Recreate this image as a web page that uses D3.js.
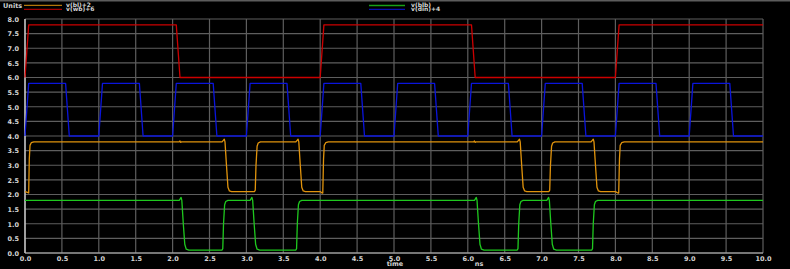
<!DOCTYPE html>
<html>
<head>
<meta charset="utf-8">
<script src="https://cdn.jsdelivr.net/npm/d3@7"></script>
<style>
  html, body { margin: 0; padding: 0; background: #000; }
  svg { display: block; }
  text { font-family: "DejaVu Sans", sans-serif; }
</style>
</head>
<body>
<svg id="chart" width="790" height="269"></svg>
<script>
// tick labels
const xTicks = [0, 0.5, 1, 1.5, 2, 2.5, 3, 3.5, 4, 4.5, 5, 5.5, 6, 6.5, 7, 7.5, 8, 8.5, 9, 9.5, 10];
const yTicks = [0, 0.5, 1, 1.5, 2, 2.5, 3, 3.5, 4, 4.5, 5, 5.5, 6, 6.5, 7, 7.5, 8];

// waveforms, [time ns, volts] (raw, offset added when drawing)
const wb = [[0,0],[0.05,1.8],[2.05,1.8],[2.1,0],[4.0,0],[4.05,1.8],[6.05,1.8],[6.1,0],[8.0,0],[8.05,1.8],[10,1.8]];

const din = [
  [0,0],[0.05,1.8],[0.55,1.8],[0.6,0],
  [1,0],[1.05,1.8],[1.55,1.8],[1.6,0],
  [2,0],[2.05,1.8],[2.55,1.8],[2.6,0],
  [3,0],[3.05,1.8],[3.55,1.8],[3.6,0],
  [4,0],[4.05,1.8],[4.55,1.8],[4.6,0],
  [5,0],[5.05,1.8],[5.55,1.8],[5.6,0],
  [6,0],[6.05,1.8],[6.55,1.8],[6.6,0],
  [7,0],[7.05,1.8],[7.55,1.8],[7.6,0],
  [8,0],[8.05,1.8],[8.55,1.8],[8.6,0],
  [9,0],[9.05,1.8],[9.55,1.8],[9.6,0],
  [10,0]
];

const bl = [
  [0,0.10],[0.035,0.07],[0.05,0.05],[0.058,1.2],[0.068,1.68],[0.085,1.77],[0.12,1.80],
  [2.09,1.80],[2.1,1.83],[2.11,1.78],[2.12,1.80],
  [2.67,1.80],[2.69,1.86],[2.70,1.89],[2.71,1.80],[2.73,1.0],[2.75,0.25],[2.77,0.12],[2.80,0.10],
  [3.11,0.10],[3.12,0.15],[3.13,1.0],[3.145,1.65],[3.16,1.76],[3.19,1.80],
  [3.67,1.80],[3.69,1.86],[3.70,1.89],[3.71,1.80],[3.73,1.0],[3.75,0.25],[3.77,0.12],[3.80,0.10],
  [4.00,0.10],[4.025,0.05],[4.035,0.05],[4.045,1.2],[4.055,1.68],[4.075,1.77],[4.11,1.80],
  [6.08,1.80],[6.09,1.83],[6.10,1.78],[6.11,1.80],
  [6.67,1.80],[6.69,1.86],[6.70,1.89],[6.71,1.80],[6.73,1.0],[6.75,0.25],[6.77,0.12],[6.80,0.10],
  [7.10,0.10],[7.11,0.15],[7.12,1.0],[7.135,1.65],[7.15,1.76],[7.18,1.80],
  [7.67,1.80],[7.69,1.86],[7.70,1.89],[7.71,1.80],[7.73,1.0],[7.75,0.25],[7.77,0.12],[7.80,0.10],
  [8.00,0.10],[8.035,0.05],[8.045,0.05],[8.055,1.2],[8.065,1.68],[8.085,1.77],[8.12,1.80],
  [10,1.80]
];

const blb = [
  [0,1.80],
  [2.09,1.80],[2.105,1.86],[2.115,1.90],[2.125,1.80],[2.145,1.0],[2.165,0.3],[2.185,0.13],[2.22,0.10],
  [2.67,0.10],[2.68,0.15],[2.69,1.0],[2.705,1.65],[2.72,1.76],[2.75,1.80],
  [3.05,1.80],[3.065,1.86],[3.075,1.90],[3.085,1.80],[3.105,1.0],[3.125,0.3],[3.145,0.13],[3.18,0.10],
  [3.67,0.10],[3.68,0.15],[3.69,1.0],[3.705,1.65],[3.72,1.76],[3.75,1.80],
  [6.09,1.80],[6.105,1.86],[6.115,1.90],[6.125,1.80],[6.145,1.0],[6.165,0.3],[6.185,0.13],[6.22,0.10],
  [6.67,0.10],[6.68,0.15],[6.69,1.0],[6.705,1.65],[6.72,1.76],[6.75,1.80],
  [7.07,1.80],[7.085,1.86],[7.095,1.90],[7.105,1.80],[7.125,1.0],[7.145,0.3],[7.165,0.13],[7.20,0.10],
  [7.68,0.10],[7.69,0.15],[7.70,1.0],[7.715,1.65],[7.73,1.76],[7.76,1.80],
  [10,1.80]
];

const series = [
  { name: "v(bl)+2",  data: bl,  offset: 2, color: "#e0930c" },
  { name: "v(wb)+6",  data: wb,  offset: 6, color: "#cc0000" },
  { name: "v(blb)",   data: blb, offset: 0, color: "#1fc81f" },
  { name: "v(din)+4", data: din, offset: 4, color: "#0a14dc" }
];

var svg = d3.select("#chart"),
    W = 790, H = 269,
    plotL = 25, plotR = 763, plotT = 19, plotB = 253;

var x = d3.scaleLinear().domain([0, 10]).range([plotL, plotR]);
var y = d3.scaleLinear().domain([0, 8]).range([plotB, plotT]);

svg.append("rect").attr("width", W).attr("height", H).attr("fill", "#000");
// thin frame line at very top
svg.append("rect").attr("x", 0).attr("y", 0).attr("width", W).attr("height", 1.5).attr("fill", "#5c5c5c");

// grid
var grid = svg.append("g").attr("stroke", "#5e5e5e").attr("stroke-width", 1.2);
grid.selectAll(".gx").data(xTicks).enter().append("line")
    .attr("x1", d => x(d)).attr("x2", d => x(d))
    .attr("y1", plotT).attr("y2", plotB);
grid.selectAll(".gy").data(yTicks).enter().append("line")
    .attr("x1", plotL).attr("x2", plotR)
    .attr("y1", d => y(d)).attr("y2", d => y(d));

// axes
var xAxis = d3.axisBottom(x).tickValues(xTicks).tickFormat(d3.format(".1f")).tickSize(0).tickPadding(3);
var yAxis = d3.axisLeft(y).tickValues(yTicks).tickFormat(d3.format(".1f")).tickSize(0).tickPadding(6);

var gx = svg.append("g").attr("transform", "translate(0," + plotB + ")").call(xAxis);
var gy = svg.append("g").attr("transform", "translate(" + plotL + ",0)").call(yAxis);
[gx, gy].forEach(g => {
    g.select(".domain").remove();
    g.selectAll("text").attr("fill", "#d4d4d4").attr("font-size", "6.5px").attr("font-weight", "bold")
        .attr("font-family", "DejaVu Sans");
});
gy.selectAll("text").attr("dy", "0.35em");

svg.append("line").attr("x1", plotL).attr("x2", plotL).attr("y1", plotT).attr("y2", plotB)
    .attr("stroke", "#e6e6e6").attr("stroke-width", 1.2);
svg.append("line").attr("x1", plotL).attr("x2", plotR).attr("y1", plotB).attr("y2", plotB)
    .attr("stroke", "#bdbdbd").attr("stroke-width", 1.2);

svg.append("text").attr("x", 395).attr("y", 265.5).attr("text-anchor", "middle")
    .attr("fill", "#d4d4d4").attr("font-size", "6.5px").attr("font-weight", "bold").text("time");
svg.append("text").attr("x", 479).attr("y", 265.5).attr("text-anchor", "middle")
    .attr("fill", "#d4d4d4").attr("font-size", "6.5px").attr("font-weight", "bold").text("ns");

// traces
var line = d3.line().x(d => x(d[0]));
series.forEach(s => {
    svg.append("path")
        .datum(s.data)
        .attr("fill", "none")
        .attr("stroke", s.color)
        .attr("stroke-width", 1.3)
        .attr("stroke-linejoin", "round")
        .attr("d", line.y(d => y(d[1] + s.offset)));
});

// legend
svg.append("text").attr("x", 3).attr("y", 8).attr("fill", "#d4d4d4")
    .attr("font-size", "6.5px").attr("font-weight", "bold").text("Units");

var legendPos = [
    { x0: 24, x1: 62, ly: 5.3, tx: 66, ty: 7.2 },
    { x0: 24, x1: 62, ly: 9.3, tx: 66, ty: 11.2 },
    { x0: 369, x1: 405, ly: 5.5, tx: 411, ty: 7.2 },
    { x0: 369, x1: 405, ly: 9.3, tx: 411, ty: 11.2 }
];
series.forEach((s, i) => {
    var p = legendPos[i];
    svg.append("line").attr("x1", p.x0).attr("x2", p.x1).attr("y1", p.ly).attr("y2", p.ly)
        .attr("stroke", s.color).attr("stroke-width", 1.3).attr("opacity", 0.8);
    svg.append("text").attr("x", p.tx).attr("y", p.ty).attr("fill", "#d4d4d4")
        .attr("font-size", "6px").attr("font-weight", "bold").text(s.name);
});
</script>
</body>
</html>
